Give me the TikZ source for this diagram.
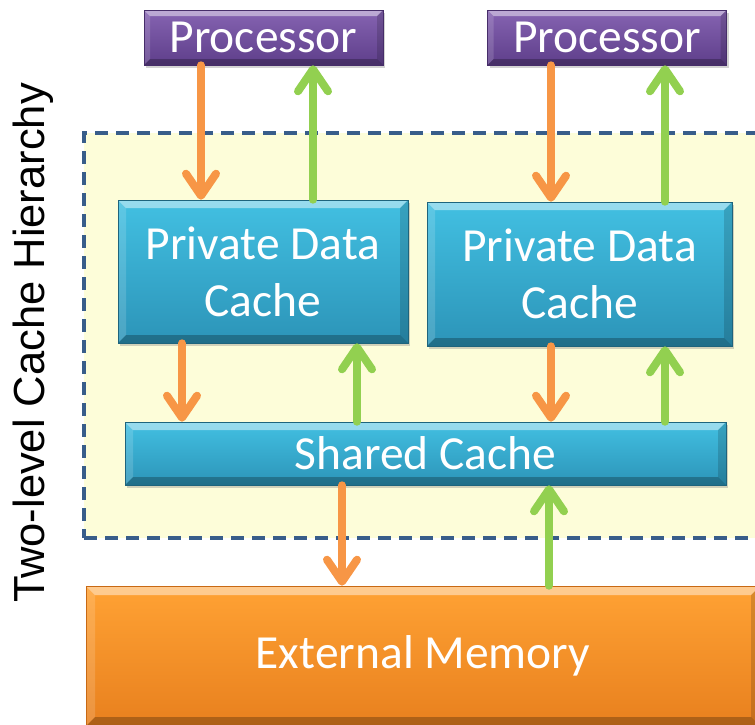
\documentclass[tikz,border=0pt]{standalone}
\usepackage{fontspec}
\setmainfont{Carlito}
\newfontfamily\labelfont{Liberation Sans}
\usetikzlibrary{arrows.meta,shadows,calc}

\definecolor{arrO}{RGB}{247,150,70}
\definecolor{arrG}{RGB}{146,208,80}
\definecolor{dashC}{RGB}{56,93,138}
\definecolor{hierFill}{RGB}{253,253,217}
\definecolor{purTop}{RGB}{134,100,178}
\definecolor{purBot}{RGB}{94,62,138}
\definecolor{purEdge}{RGB}{70,45,105}
\definecolor{cyTop}{RGB}{66,192,226}
\definecolor{cyBot}{RGB}{44,148,184}
\definecolor{cyEdge}{RGB}{30,100,125}
\definecolor{orTop}{RGB}{255,162,52}
\definecolor{orBot}{RGB}{232,128,30}
\definecolor{orEdge}{RGB}{200,105,20}

\tikzset{
  bevel/.style={path picture={
    \coordinate (bnw) at (path picture bounding box.north west);
    \coordinate (bne) at (path picture bounding box.north east);
    \coordinate (bsw) at (path picture bounding box.south west);
    \coordinate (bse) at (path picture bounding box.south east);
    \fill[white,opacity=.45] (bnw) -- (bne) -- ([shift={(-#1,-#1)}]bne) -- ([shift={(#1,-#1)}]bnw) -- cycle;
    \fill[white,opacity=.15] (bnw) -- (bsw) -- ([shift={(#1,#1)}]bsw) -- ([shift={(#1,-#1)}]bnw) -- cycle;
    \fill[black,opacity=.25] (bsw) -- (bse) -- ([shift={(-#1,#1)}]bse) -- ([shift={(#1,#1)}]bsw) -- cycle;
    \fill[black,opacity=.15] (bne) -- (bse) -- ([shift={(-#1,#1)}]bse) -- ([shift={(-#1,-#1)}]bne) -- cycle;
  }},
  boxbase/.style={inner sep=0pt, text=white, align=center,
    drop shadow={opacity=.35, shadow xshift=2pt, shadow yshift=-3pt},
    font=\fontsize{47.5}{57}\selectfont},
  procbox/.style={boxbase, top color=purTop, bottom color=purBot, draw=purEdge, line width=.6pt, bevel=6pt},
  cachebox/.style={boxbase, top color=cyTop, bottom color=cyBot, draw=cyEdge, line width=.6pt, bevel=8pt},
  membox/.style={boxbase, top color=orTop, bottom color=orBot, draw=orEdge, line width=.6pt, bevel=9pt},
  dashbox/.style={draw=dashC, fill=hierFill, line width=4pt, dash pattern=on 13pt off 8pt, inner sep=0pt},
  flow/.style={line width=8pt, line cap=round,
    -{Straight Barb[length=22pt, width=30pt, line cap=round, line join=round]}},
  down/.style={flow, draw=arrO},
  up/.style={flow, draw=arrG},
}

\begin{document}
\begin{tikzpicture}[x=1pt,y=-1pt]
\useasboundingbox (0,0) rectangle (755,724);

% container of the two-level hierarchy
\node[dashbox, minimum width=681pt, minimum height=405pt] (hier) at (424.5,335.5) {};

% vertical label
\node[rotate=90, font=\labelfont\fontsize{43.5}{50}\selectfont, inner sep=0pt] (lbl) at (33,343) {Two-level Cache Hierarchy};

% boxes
\node[procbox, minimum width=239pt, minimum height=55pt] (p1) at (263.5,37.5) {Processor};
\node[procbox, minimum width=239pt, minimum height=55pt] (p2) at (607,37.5) {Processor};
\node[cachebox, minimum width=290pt, minimum height=143pt] (c1) at (263,271.5) {Private Data\\Cache};
\node[cachebox, minimum width=305pt, minimum height=144pt] (c2) at (579.5,274) {Private Data\\Cache};
\node[cachebox, minimum width=601pt, minimum height=63pt] (sc) at (425.5,453.5) {Shared Cache};
\node[membox, minimum width=674pt, minimum height=140pt] (mem) at (423,656) {External Memory};

% processor <-> private caches
\draw[down] (201,0 |- p1.south) -- (201,0 |- c1.north);
\draw[up]   (313,0 |- c1.north) -- (313,0 |- p1.south);
\draw[down] (551,0 |- p2.south) -- (551,0 |- c2.north);
\draw[up]   (665,0 |- c2.north) -- (665,0 |- p2.south);

% private caches <-> shared cache
\draw[down] (182,0 |- c1.south) -- (182,0 |- sc.north);
\draw[up]   (357,0 |- sc.north) -- (357,0 |- c1.south);
\draw[down] (551,0 |- c2.south) -- (551,0 |- sc.north);
\draw[up]   (665,0 |- sc.north) -- (665,0 |- c2.south);

% shared cache <-> memory
\draw[down] (342,0 |- sc.south) -- (342,0 |- mem.north);
\draw[up]   (549,0 |- mem.north) -- (549,0 |- sc.south);
\end{tikzpicture}
\end{document}
